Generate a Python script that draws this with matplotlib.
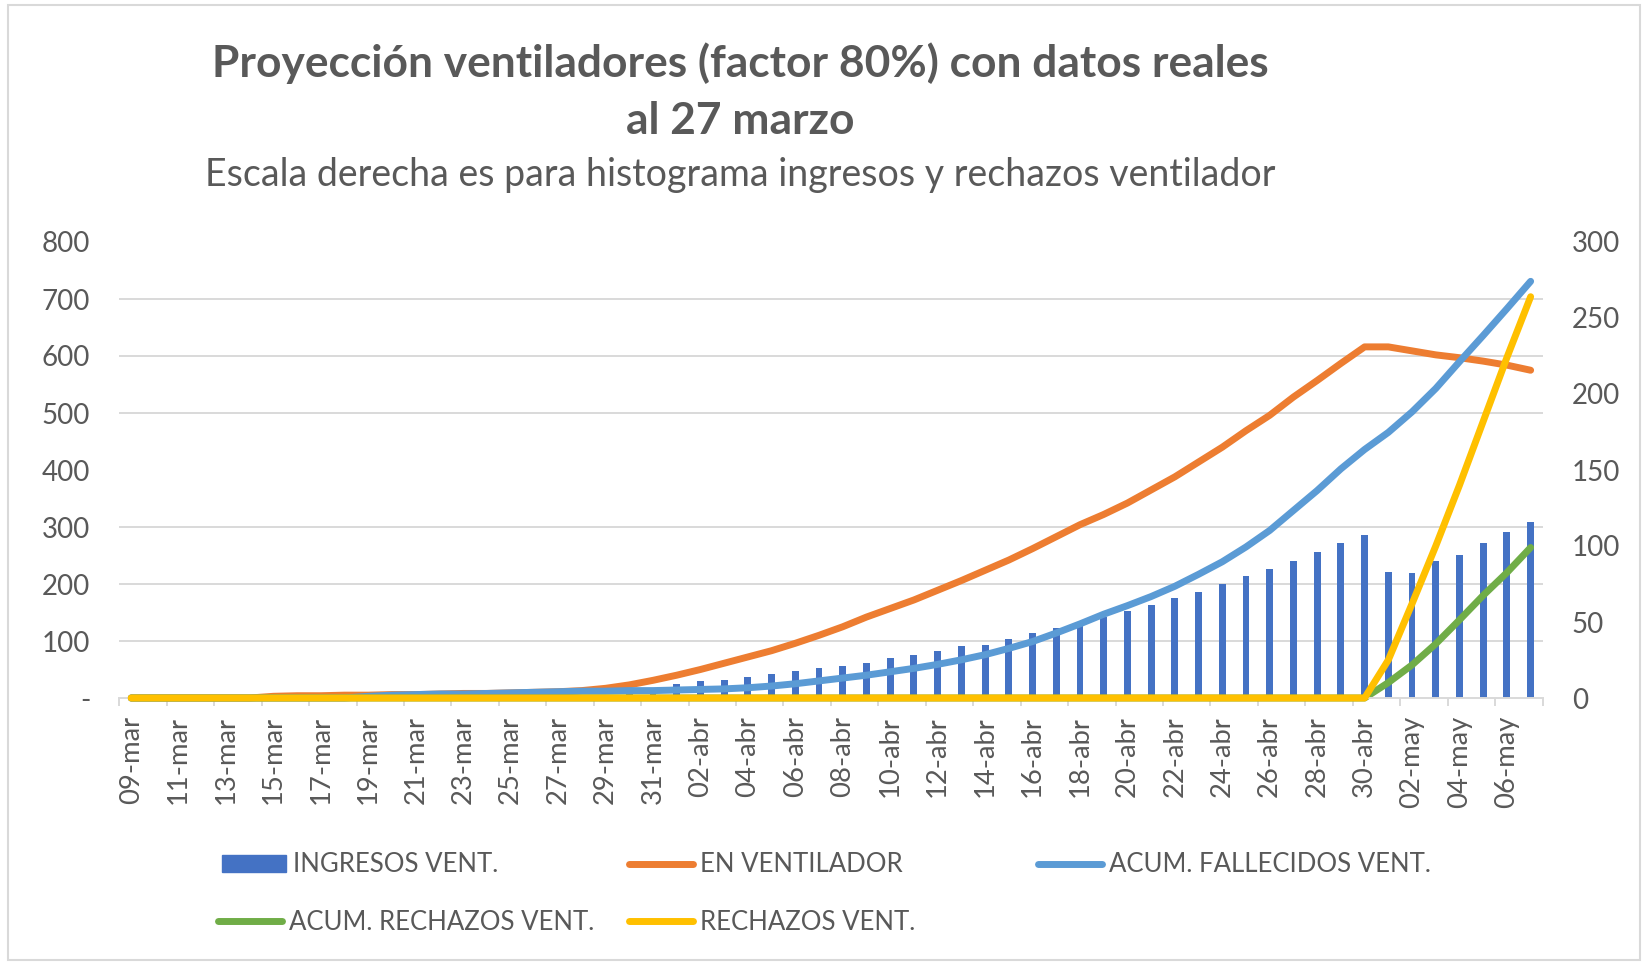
import matplotlib
matplotlib.use("Agg")
import matplotlib.pyplot as plt
from matplotlib.ticker import MultipleLocator, FixedLocator, FuncFormatter
from matplotlib.patches import Rectangle, Patch
from matplotlib.lines import Line2D
import pandas as pd

plt.rcParams['font.family'] = ['Lato', 'DejaVu Sans']

# Fechas 09-mar .. 07-may
meses = {3: 'mar', 4: 'abr', 5: 'may'}
fechas = pd.date_range('2020-03-09', '2020-05-07')
etiquetas = [f"{d.day:02d}-{meses[d.month]}" for d in fechas]

# Escala derecha
ingresos_vent = [0] * 20 + [
    2, 4, 6, 9, 11, 12, 14, 16, 18, 20,
    21, 23, 26, 28, 31, 34, 35, 39, 43, 46,
    48, 53, 57, 61, 66, 70, 75, 80, 85, 90,
    96, 102, 107, 83, 82, 90, 94, 102, 109, 116]
rechazos_vent = [0] * 53 + [25, 62, 100, 140, 182, 224, 264]

# Escala izquierda
en_ventilador = [
    0, 0, 0, 0, 0, 0, 3, 4, 4, 5,
    5, 6, 6, 7, 8, 8, 9, 10, 11, 13,
    17, 23, 31, 40, 50, 61, 72, 83, 96, 110,
    125, 142, 157, 172, 189, 206, 224, 242, 262, 283,
    304, 322, 342, 365, 388, 414, 440, 469, 496, 528,
    557, 587, 616, 616, 609, 602, 597, 591, 584, 575]
acum_fallecidos = [
    0, 0, 0, 0, 0, 0, 0, 0, 0, 0,
    3, 5, 6, 7, 7, 8, 9, 10, 11, 12,
    12, 13, 13, 14, 15, 16, 18, 21, 25, 30,
    35, 40, 46, 52, 59, 67, 76, 87, 99, 114,
    130, 147, 162, 178, 196, 217, 239, 265, 294, 329,
    364, 402, 436, 466, 502, 543, 590, 636, 683, 731]
acum_rechazos = [0] * 53 + [27, 58, 95, 137, 180, 220, 264]

AZUL = '#4472C4'
NARANJA = '#ED7D31'
CELESTE = '#5B9BD5'
VERDE = '#70AD47'
AMARILLO = '#FFC000'
GRIS_TXT = '#595959'
GRIS_LIN = '#D9D9D9'

x = list(range(len(etiquetas)))
W, H = 1644, 963
fig = plt.figure(figsize=(W / 100, H / 100), dpi=100)

# eje principal (escala izquierda), barras en eje derecho por debajo
ax = fig.add_axes([119.3 / W, 1 - 698 / H, (1542.5 - 119.3) / W, (698 - 242) / H])
ax2 = ax.twinx()
ax3 = ax.twinx()
ax2.set_zorder(1)
ax.set_zorder(2)
ax3.set_zorder(3)
ax.patch.set_visible(False)
ax2.patch.set_visible(False)
ax3.patch.set_visible(False)

# barras
ax2.bar(x, ingresos_vent, width=0.29, color=AZUL, zorder=2)
ax2.set_ylim(0, 300)
ax2.yaxis.set_major_locator(MultipleLocator(50))
ax2.yaxis.set_minor_locator(MultipleLocator(37.5))
ax2.grid(which='minor', axis='y', color=GRIS_LIN, lw=1.4)
ax2.set_axisbelow(True)
ax2.tick_params(axis='y', which='both', length=0, labelsize=20, labelcolor=GRIS_TXT, pad=21)
for s in ax2.spines.values():
    s.set_visible(False)

# lineas escala izquierda
lw = 5
kw = dict(lw=lw, solid_capstyle='round', solid_joinstyle='round', clip_on=False)
ax.plot(x, en_ventilador, color=NARANJA, **kw)
ax.plot(x, acum_fallecidos, color=CELESTE, **kw)
ax.plot(x, acum_rechazos, color=VERDE, **kw)
ax.set_xlim(-0.5, len(x) - 0.5)
ax.set_ylim(0, 800)
ax.yaxis.set_major_locator(MultipleLocator(100))
ax.yaxis.set_major_formatter(FuncFormatter(lambda v, p: '-' if v == 0 else f'{v:.0f}'))
ax.tick_params(axis='y', length=0, labelsize=20, labelcolor=GRIS_TXT, pad=21)
for s in ['top', 'left', 'right']:
    ax.spines[s].set_visible(False)
ax.spines['bottom'].set_color(GRIS_LIN)
ax.spines['bottom'].set_linewidth(1.4)
ax.xaxis.set_major_locator(FixedLocator(x[::2]))
ax.set_xticklabels(etiquetas[::2], rotation=90)
ax.xaxis.set_minor_locator(MultipleLocator(2, offset=-0.5))
ax.tick_params(axis='x', which='major', length=0, labelsize=19.7, labelcolor=GRIS_TXT, pad=13)
ax.tick_params(axis='x', which='minor', length=6, width=1.4, color=GRIS_LIN)

# rechazos en escala derecha, encima de todo
ax3.plot(x, rechazos_vent, color=AMARILLO, **kw)
ax3.set_ylim(0, 300)
ax3.set_yticks([])
for s in ax3.spines.values():
    s.set_visible(False)

# titulos
fig.text(740.5 / W, 1 - 63 / H, 'Proyección ventiladores (factor 80%) con datos reales',
         ha='center', va='center', fontsize=31.9, fontweight='bold', color=GRIS_TXT)
fig.text(740.5 / W, 1 - 120.6 / H, 'al 27 marzo',
         ha='center', va='center', fontsize=31.9, fontweight='bold', color=GRIS_TXT)
fig.text(740.5 / W, 1 - 175 / H, 'Escala derecha es para histograma ingresos y rechazos ventilador',
         ha='center', va='center', fontsize=27, color=GRIS_TXT)

# leyenda, una entrada por posicion
entradas = [
    (Patch(color=AZUL), 'INGRESOS VENT.', 222, 865),
    (Line2D([], [], color=NARANJA, lw=lw, solid_capstyle='round'), 'EN VENTILADOR', 629, 865),
    (Line2D([], [], color=CELESTE, lw=lw, solid_capstyle='round'), 'ACUM. FALLECIDOS VENT.', 1038, 865),
    (Line2D([], [], color=VERDE, lw=lw, solid_capstyle='round'), 'ACUM. RECHAZOS VENT.', 218, 922.6),
    (Line2D([], [], color=AMARILLO, lw=lw, solid_capstyle='round'), 'RECHAZOS VENT.', 629, 922.6),
]
for h, t, px, py in entradas:
    fig.legend(handles=[h], labels=[t], loc='center left', bbox_to_anchor=(px / W, 1 - py / H),
               frameon=False, borderpad=0, borderaxespad=0, fontsize=18.5, labelcolor=GRIS_TXT,
               handlelength=2.5, handleheight=0.6, handletextpad=0.25)

# borde del grafico
fig.patches.append(Rectangle((8 / W, 3 / H), (1640 - 8) / W, (958 - 3) / H,
                             transform=fig.transFigure, fill=False, ec=GRIS_LIN, lw=1.5))

fig.savefig('out.png', dpi=100, facecolor='white')
